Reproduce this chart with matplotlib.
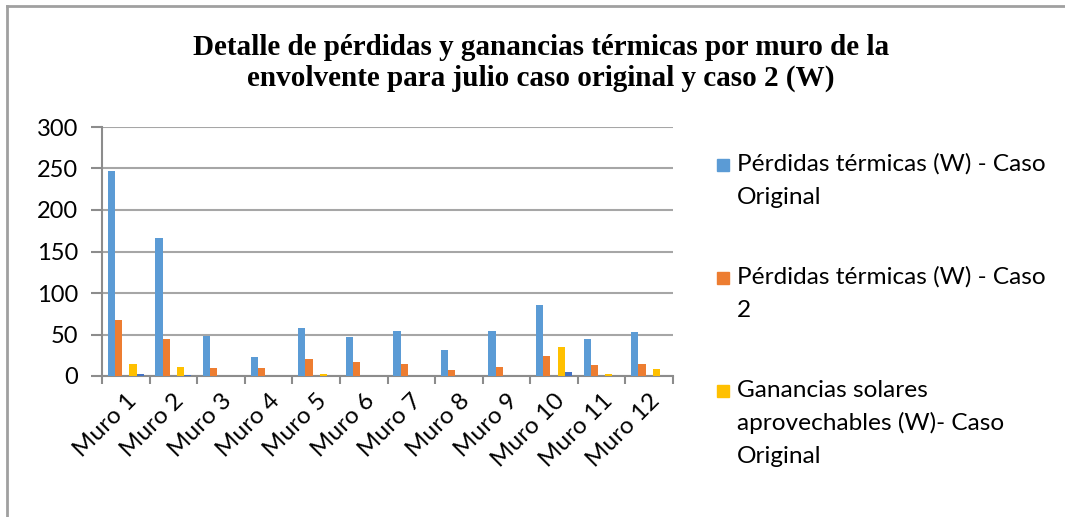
import matplotlib.pyplot as plt
from matplotlib.patches import Rectangle
import numpy as np

muros = ["Muro 1", "Muro 2", "Muro 3", "Muro 4", "Muro 5", "Muro 6",
         "Muro 7", "Muro 8", "Muro 9", "Muro 10", "Muro 11", "Muro 12"]
perdidas_original = [247, 166, 48.5, 23, 58, 47, 54.5, 31, 54.5, 85, 45, 53]
perdidas_caso2 = [67, 45, 9.5, 9.5, 21, 17, 15, 7, 10.5, 23.5, 13, 14.5]
ganancias_original = [14, 11, 0, 0, 2, 0, 0, 0, 0, 34.5, 3, 8.5]
ganancias_caso2 = [2.5, 0.8, 0, 0, 0, 0, 0, 0, 0, 4.8, 0, 0.5]

labels = ["Pérdidas térmicas (W) - Caso\nOriginal",
          "Pérdidas térmicas (W) - Caso\n2",
          "Ganancias solares\naprovechables (W)- Caso\nOriginal"]

plt.rcParams['font.family'] = ['Lato', 'DejaVu Sans']

W, H = 1065, 517
fig = plt.figure(figsize=(W / 100, H / 100), dpi=100)
ax = fig.add_axes([102 / W, 1 - 376 / H, 571 / W, 249 / H])

x = np.arange(len(muros))
w = 0.151
series = [(perdidas_original, '#5B9BD5', 0),
          (perdidas_caso2, '#ED7D31', 1),
          (ganancias_original, '#FFC000', 3),
          (ganancias_caso2, '#4472C4', 4)]
bars = []
for vals, col, slot in series:
    b = ax.bar(x + (slot - 2) * w, vals, w, color=col, zorder=3)
    bars.append(b)

ax.set_xlim(-0.5, len(muros) - 0.5)
ax.set_ylim(0, 300)
ax.set_yticks(range(0, 301, 50))
ax.grid(axis='y', color='#A6A6A6', linewidth=1.5, zorder=0)
for s in ['top', 'right']:
    ax.spines[s].set_visible(False)
for s in ['left', 'bottom']:
    ax.spines[s].set_color('#8C8C8C')
    ax.spines[s].set_linewidth(1.5)

ax.set_xticks(x)
ax.set_xticklabels(muros, rotation=45, ha='right', rotation_mode='anchor',
                   fontsize=17.5)
ax.tick_params(axis='x', length=0, pad=10)
ax.set_xticks(np.arange(-0.5, len(muros)), minor=True)
ax.tick_params(axis='x', which='minor', length=6, width=1.5, color='#8C8C8C')
ax.tick_params(axis='y', length=8, width=1.5, color='#8C8C8C', labelsize=17,
               pad=9)

fig.text(0.508, 1 - 63 / H, "Detalle de pérdidas y ganancias térmicas por muro de la\n"
         "envolvente para julio caso original y caso 2 (W)",
         ha='center', va='center', fontsize=21, fontweight='bold',
         family='Liberation Serif', linespacing=1.15)

# legend (first three series), marker next to the first line of each label
baselines = [171, 284, 397]
line_gap = 33
for b, lab, yb in zip(bars[:3], labels, baselines):
    fig.patches.append(Rectangle((717 / W, 1 - yb / H), 12 / W, 12 / H,
                                 transform=fig.transFigure,
                                 color=b.patches[0].get_facecolor()))
    for i, line in enumerate(lab.split("\n")):
        fig.text(737 / W, 1 - (yb + i * line_gap) / H, line, ha='left',
                 va='baseline', fontsize=17.6)

# chart border
fig.add_artist(plt.Line2D([0.0066, 0.0066], [0, 0.988], color='#A0A0A0',
                          linewidth=2, transform=fig.transFigure))
fig.add_artist(plt.Line2D([0.0066, 1], [0.988, 0.988], color='#A0A0A0',
                          linewidth=2, transform=fig.transFigure))

fig.savefig("out.png", dpi=100)
